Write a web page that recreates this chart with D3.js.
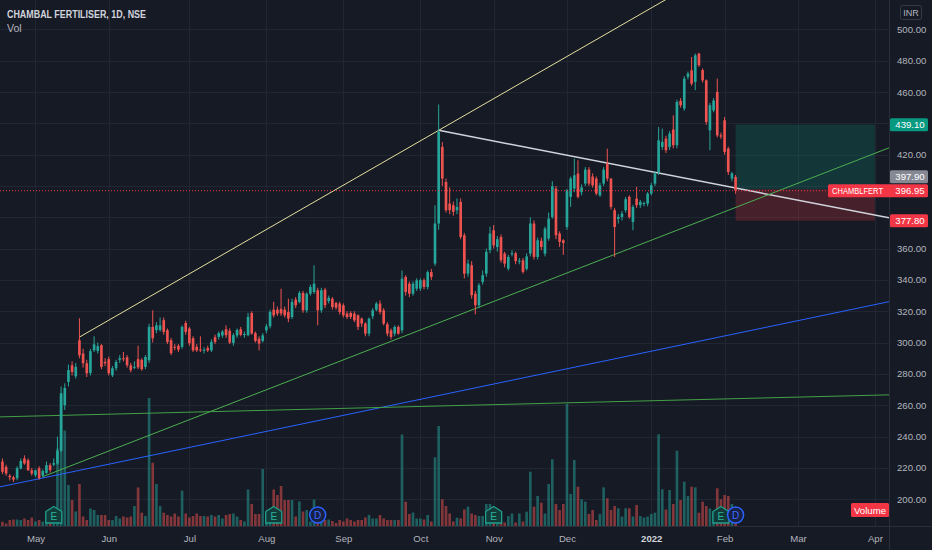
<!DOCTYPE html>
<html><head><meta charset="utf-8">
<script src="https://cdn.jsdelivr.net/npm/d3@7"></script>
<style>
html,body{margin:0;padding:0;background:#161a25;}
svg{display:block;font-family:"Liberation Sans",Arial,sans-serif;}
</style></head><body>
<svg id="chart" width="932" height="550"></svg>
<script>
// ---------------- DATA ----------------
const symbolTitle = "CHAMBAL FERTILISER, 1D, NSE";
const startDate = "2021-04-19";
const holidays = ["2021-04-21","2021-05-13","2021-07-21","2021-08-19","2021-09-10","2021-10-15",
  "2021-11-05","2021-11-19","2022-01-26","2022-03-01","2022-03-18"];

const open = [
 224,220.6,215,214,213.4,219.6,226,224.9,218.5,215.3,
 219.8,215,216.8,221.7,222,222.8,231,260,274.9,285.5,
 278.5,301.5,293,286.8,280.6,295,294.7,298.3,287.6,289.4,
 279.1,283.6,289,290,290.6,285.5,284,289.4,289,284.5,
 288.7,310,307.9,308,314.3,307.9,301.5,297.3,298,297.3,
 312.5,309,302.8,297.3,295.5,295,296.5,295,303.4,303.6,
 304.5,308.5,307.5,299.8,304.5,308.5,305,304.7,318.9,306,
 302.5,301,307.8,310.4,321,321,321.5,321,319.5,316.3,
 327.4,325.9,331.7,320.6,331.2,332.3,333.4,320.6,333.8,326.5,
 328,325.3,324.9,323.8,318.5,318.9,318.5,317.4,315.3,312.1,
 305.7,316.8,321,324.9,320.6,311.7,307.8,305.7,310,307.8,
 341.9,337.6,331.2,334.4,334.5,339.8,335.5,345,350.4,376,
 424.9,402.5,388.7,387.7,384.5,389.8,368.5,344,349.4,331.2,
 323.8,338.7,344,359,371.7,361,367.4,356.8,347.2,356.5,
 357,352,352.5,347,356.8,376,354.7,365,356.8,366.4,
 380.2,398.3,369.6,365.3,373.8,393,398.3,407.9,396,401.5,
 410.4,406,404.7,394,401.5,414.2,404.7,384.5,379,380.2,
 384.5,393,377,391.9,387.7,388.5,388.7,395.1,401.5,408.9,
 424.9,430.2,424.9,436,426,454.3,449.4,469.6,473.8,466.4,
 484.5,474,467.4,435.5,448.3,460,432.3,441.9,423.8,404.7,405.7];

const high = [
 226,222,216,215,221,226,228,226,220,219,
 221,219,224,223,226,240,272,274,286,288,
 287,315.5,296,289,296,304,300,299,290,291,
 285,289,292,294,292,287,288,298,290,292,
 312,320.6,313,316,316,309,303,299,299,311,
 314,310,304,299,304,297,298,302,305,307,
 308,311,309,306,309,310,307,319,320,307,
 304,306,312,321,326,323,334.4,323,328,328,
 329,333,333,332,337,349.3,335,335,335,330,
 329,326,326,325,320,320,320,318,316,313,
 316,322,326,327,322,313,309,311,311,346,
 343,339,339,341,341,341,346,347,387.7,452,
 428,404.7,399,390,392,392,370,353,352,333,
 338,346,360,374,375,368,369,358,356,359,
 358,354,354,357,380,378,367,367,374,383,
 403,400,371,366,398,406,417.4,416.4,401,412,
 412,408,406,402,412,423.8,405,386,382,384,
 393,394,388,399.4,391,390,396,402,409,437.6,
 436.6,432,435,445.1,455,456,470,473,482.3,484.5,
 485,475,468,453,456,468.5,434,444,425,409,407];

const low = [
 216,215,212,211,212,219,222,218,215,214,
 212.5,214,216,217,221,222,230,257,272,279,
 277,290,284,278,279,294,293,283,285,279,
 278,282,287,288,284,281,283,283,282,283,
 287,300,306,307,305,299,292,295,294,296,
 305,298,294,294,294,293,294,294,299,302,
 303,303,299,298,303,304,303,304,305,300,
 295,300,306,309,316,317,317,316,313,315,
 322,325,319,319,330,331,311,319,322,325,
 321,321,318,316,315,315,313,308,310,304,
 304,315,320,318,311,304,302,304,305,306,
 330,329,330,333,333,334,334,340,349,372,
 400,383,382,381,382,366,341,342,328,318,
 322,337,342,357,360,358,351,348,346,355,
 350,350,344,346,355,353,353,359,355,365,
 379,366,361,356,372,386.6,396,392,394,400,
 400,399,394,393,400,403,385,354.7,376,378,
 383,379,371.7,386,386,387,387,394,400,407,
 423,421,423,424,424,450,448,468,464,461.1,
 476,466,439,422.8,447,431,430,420,407,403,395];

const close = [
 217.5,216.4,214,212.5,219.8,224.4,222.8,218.5,216.4,218.5,
 213.4,218,221.7,218.5,223,231,267.7,271,282.4,281.2,
 284.5,291.9,286.8,280.4,294.5,298.9,297.7,284.5,286.8,280.4,
 283.6,287.6,290,289.5,285.5,282.4,284.5,284.2,283,290.8,
 310,302.8,311,311,306.8,300.4,293.2,297,295.5,310,
 306.8,299.6,295,295,295,295.5,295,300.4,300.4,306,
 307,304.7,300,304.7,308,305,305.5,316.4,305.8,301,
 299.3,304.6,310.4,319.5,317.4,318.5,318.5,317.4,315.3,325.9,
 323.8,331.7,320.6,331.2,335.5,337.6,320.6,333.4,323.8,328.5,
 322.7,322.3,319.5,317.4,316.3,316.3,314.2,310,312.1,305.7,
 315.3,320.6,324.9,319.5,312.1,305.7,303.6,310,305.7,340.8,
 332.3,331.2,337.6,339.7,339.8,335.5,345,341.9,376,434.5,
 404.7,384.5,384.5,383.5,386.6,367.4,344,350.4,330.2,323.8,
 336.6,343,357.9,369.6,362.1,366,352.5,350.4,354.7,357,
 352,352.3,345.1,355,376,354.7,365.3,361,372.7,379.1,
 399.8,368.5,364.3,363.6,397.2,404.7,406.8,393,399,410.4,
 401.5,400.4,395.1,400.4,410.4,404.7,386.6,373.8,380.2,382.3,
 391.5,380.2,386.6,387.7,389.8,389,395.1,400.4,408,429.1,
 428.1,422.8,433.4,426,453.6,451.5,468.5,471.7,465.3,483.4,
 477,467.4,440.8,451.5,454.5,432.3,431.5,421.7,408.9,408,396.95];

// volume, in lakh shares (relative)
const volume = [
 4.8,3,6.5,7,7,6.5,8,6.5,9,5,
 6.5,5,7,5,8,78,131,96,41.5,26.5,
 15,42.5,10,6.5,18,16.5,11.5,11.5,11.5,6.5,
 6.5,10.5,8,10,9,10,20.5,39,13.8,10.5,
 128.5,63.8,42.5,20.5,13.8,11.5,10,13,10,35.8,
 13,9,10.5,13,10.5,10.5,10,11.5,10,11.5,
 8,11.5,12.5,13,10,6.5,5,37,22.5,12.5,
 12.5,57.5,13,11.5,37,31.5,40.5,26.5,26.5,26.5,
 10,25,15,16.5,5,27,10,7,6.5,7,
 5.5,3.5,6.5,5,8,6.5,5,6.5,6.5,9,
 11.5,8,8,11.5,8,6.5,6.5,6.5,6.5,92,
 24.8,12.5,14,8,8,7,11.5,5,69.2,100.5,
 27.2,20.5,13,5,8.8,8,17,19.8,13,11.5,
 10.5,10.5,22.5,22.5,20,3,4,4,10.5,13,
 4,13,5,14.8,54.8,19.8,30.5,23.8,13,42.5,
 67.2,22.5,16.5,22.5,122.5,32.5,66.5,39.8,27.2,24.8,
 12.5,16.5,6.5,12.5,39.2,28.2,16.5,20.5,18.2,10,
 18.2,18.2,10,21.5,10.5,9,10,12.5,13.8,92.2,
 37.2,17,36.5,22.5,75.8,26.5,44.8,30.5,39.8,39.2,
 13.8,24.8,20.5,18,15,38.2,27.2,31.5,30.5,22.5,13];

const priceTicks = [200,220,240,260,280,300,320,340,360,380,400,420,440,460,480,500];
const monthKeys = ["2021-05","2021-06","2021-07","2021-08","2021-09","2021-10","2021-11","2021-12","2022-01","2022-02","2022-03","2022-04"];
const monthLabels = ["May","Jun","Jul","Aug","Sep","Oct","Nov","Dec","2022","Feb","Mar","Apr"];

const earningsDates = ["2021-05-10","2021-08-04","2021-11-01","2022-01-31"];
const dividendDates = ["2021-08-23","2022-02-04"];

// drawings: anchors are [bar index from startDate, price]
const trendLines = [
  {name:"upper", a:[21,303.5], b:[119,435.5], extL:false, extR:true, color:"#e3df9e", w:1},
  {name:"resist", a:[119,435.5], b:[179,408.2], extL:false, extR:true, color:"#d1d4dc", w:1.5},
  {name:"support", a:[11,214.4], b:[129,321.7], extL:false, extR:true, color:"#4caf50", w:1},
  {name:"blue", a:[0,208.2], b:[200,305.7], extL:true, extR:true, color:"#2962ff", w:1},
  {name:"flat", a:[0,252.6], b:[200,264.2], extL:true, extR:true, color:"#43a047", w:1}
];
const position = {startBar:200, bars:38, entry:397.90, target:439.10, stop:377.80};
const tickerShort = "CHAMBLFERT";

// ---------------- LAYOUT ----------------
const W = 932, H = 550, plotW = 889, plotH = 526;
const svg = d3.select("#chart");
svg.append("rect").attr("width",W).attr("height",H).attr("fill","#161a25");

const hol = new Set(holidays);
const dates = [];
{ let d = new Date(startDate + "T00:00:00Z");
  while (dates.length < 250) {
    const s = d.toISOString().slice(0,10), dw = d.getUTCDay();
    if (dw !== 0 && dw !== 6 && !hol.has(s)) dates.push(s);
    d.setUTCDate(d.getUTCDate() + 1);
  } }
const idxOf = s => dates.indexOf(s);

const x = d3.scaleLinear().domain([-0.67, 241.85]).range([0, plotW]);
const y = d3.scaleLinear().domain([182.9, 518.7]).range([plotH, 0]);
const vy = d3.scaleLinear().domain([0, d3.max(volume)]).range([plotH + 0.5, plotH + 0.5 - 131]);
const step = x(1) - x(0);

const bars = close.map((c,i)=>({i, o:open[i], h:high[i], l:low[i], c, v:volume[i], up: c >= open[i]}));
const UP = "#26a69a", DN = "#ef5350";

const defs = svg.append("defs");
defs.append("clipPath").attr("id","plotclip").append("rect").attr("width",plotW).attr("height",plotH);

// grid
const tickIdx = monthKeys.map(m => dates.findIndex(d => d.startsWith(m)));
const grid = svg.append("g").attr("clip-path","url(#plotclip)");
grid.selectAll("line.v").data(tickIdx).join("line")
  .attr("x1",d=>Math.round(x(d))+0.5).attr("x2",d=>Math.round(x(d))+0.5)
  .attr("y1",0).attr("y2",plotH).attr("stroke","#222632").attr("stroke-width",1);
grid.selectAll("line.h").data(priceTicks).join("line")
  .attr("x1",0).attr("x2",plotW)
  .attr("y1",d=>Math.round(y(d))+0.5).attr("y2",d=>Math.round(y(d))+0.5)
  .attr("stroke","#222632").attr("stroke-width",1);

const plot = svg.append("g").attr("clip-path","url(#plotclip)");

// position tool
const px0 = x(position.startBar), px1 = x(position.startBar + position.bars);
plot.append("rect").attr("x",px0).attr("width",px1-px0)
  .attr("y",y(position.target)).attr("height",y(position.entry)-y(position.target))
  .attr("fill","rgba(8,153,129,0.22)");
plot.append("rect").attr("x",px0).attr("width",px1-px0)
  .attr("y",y(position.entry)).attr("height",y(position.stop)-y(position.entry))
  .attr("fill","rgba(242,54,69,0.22)");

// volume
const bw = Math.max(1, step*0.72);
plot.append("g").selectAll("rect").data(bars).join("rect")
  .attr("x",d=>x(d.i)-bw/2).attr("width",bw)
  .attr("y",d=>vy(d.v)).attr("height",d=>vy(0)-vy(d.v))
  .attr("fill",d=>d.up?UP:DN).attr("opacity",0.5);

// trend lines
const line = d3.line().x(d=>x(d[0])).y(d=>y(d[1]));
trendLines.forEach(t=>{
  const [k1,p1]=t.a,[k2,p2]=t.b, sl=(p2-p1)/(k2-k1);
  const kl = t.extL ? x.invert(0) : k1, kr = t.extR ? x.invert(plotW) : k2;
  plot.append("path").datum([[kl,p1+sl*(kl-k1)],[kr,p1+sl*(kr-k1)]])
    .attr("d",line).attr("fill","none").attr("stroke",t.color).attr("stroke-width",t.w);
});

// candles
const cg = plot.append("g");
cg.selectAll("line").data(bars).join("line")
  .attr("x1",d=>x(d.i)).attr("x2",d=>x(d.i))
  .attr("y1",d=>y(d.h)).attr("y2",d=>y(d.l))
  .attr("stroke",d=>d.up?UP:DN).attr("stroke-width",1);
cg.selectAll("rect").data(bars).join("rect")
  .attr("x",d=>x(d.i)-bw/2).attr("width",bw)
  .attr("y",d=>y(Math.max(d.o,d.c)))
  .attr("height",d=>Math.max(1,Math.abs(y(d.o)-y(d.c))))
  .attr("fill",d=>d.up?UP:DN);

// current price dotted line
const last = close[close.length-1];
plot.append("line").attr("x1",0).attr("x2",plotW)
  .attr("y1",y(last)).attr("y2",y(last))
  .attr("stroke","#f23645").attr("stroke-width",1).attr("stroke-dasharray","1,2");

// earnings / dividend markers
const mk = svg.append("g");
const my = plotH - 11;
earningsDates.forEach(s=>{
  const cx = x(idxOf(s));
  mk.append("path")
    .attr("d",`M${cx},${my-8.5} L${cx+8},${my-3.5} L${cx+8},${my+8} L${cx-8},${my+8} L${cx-8},${my-3.5} Z`)
    .attr("fill","#123a38").attr("stroke","#1f9e8a").attr("stroke-width",1.3);
  mk.append("text").attr("x",cx).attr("y",my+4.5).attr("text-anchor","middle")
    .attr("font-size",10).attr("fill","#2bb39c").text("E");
});
dividendDates.forEach(s=>{
  const cx = x(idxOf(s));
  mk.append("circle").attr("cx",cx).attr("cy",my).attr("r",8)
    .attr("fill","#182044").attr("stroke","#2962ff").attr("stroke-width",1.5);
  mk.append("text").attr("x",cx).attr("y",my+3.6).attr("text-anchor","middle")
    .attr("font-size",10).attr("fill","#3d6dff").text("D");
});

// separators
svg.append("line").attr("x1",plotW+0.5).attr("x2",plotW+0.5).attr("y1",0).attr("y2",H)
  .attr("stroke","#2a2e39");
svg.append("line").attr("x1",0).attr("x2",W).attr("y1",plotH+0.5).attr("y2",plotH+0.5)
  .attr("stroke","#2a2e39");

// badges (computed first to hide colliding ticks)
const bh = 13;
const redC = y(last);
const badges = [
  {yc:y(position.target), text:position.target.toFixed(2), fill:"#089981"},
  {yc:redC - bh - 1, text:position.entry.toFixed(2), fill:"#868993"},
  {yc:redC, text:last.toFixed(2), fill:"#f23645", ticker:true},
  {yc:y(position.stop), text:position.stop.toFixed(2), fill:"#f23645"}
];

// right axis
const yAxis = d3.axisRight(y).tickValues(priceTicks.filter(p=>badges.every(b=>Math.abs(y(p)-b.yc)>11)))
  .tickFormat(d3.format(".2f")).tickSize(0).tickPadding(8);
const ya = svg.append("g").attr("transform",`translate(${plotW},0)`).call(yAxis);
ya.select(".domain").remove();
ya.selectAll("text").attr("fill","#b2b5be").attr("font-size",9.6).attr("font-family","Liberation Sans, Arial, sans-serif");

// bottom axis
const xAxis = d3.axisBottom(x).tickValues(tickIdx).tickFormat((d,i)=>monthLabels[i]).tickSize(0).tickPadding(9);
const xa = svg.append("g").attr("transform",`translate(0,${plotH})`).call(xAxis);
xa.select(".domain").remove();
xa.selectAll("text").attr("fill",(d,i)=>monthLabels[i]==="2022"?"#d1d4dc":"#b2b5be")
  .attr("font-weight",(d,i)=>monthLabels[i]==="2022"?"bold":"normal")
  .attr("font-size",9.6).attr("font-family","Liberation Sans, Arial, sans-serif");

// draw badges
const bg = svg.append("g");
badges.forEach(b=>{
  if (b.ticker) {
    bg.append("rect").attr("x",828).attr("y",b.yc-bh/2).attr("width",100).attr("height",bh)
      .attr("rx",1.5).attr("fill",b.fill);
    bg.append("text").attr("x",832).attr("y",b.yc+3.5).attr("font-size",9.6)
      .attr("textLength",51).attr("lengthAdjust","spacingAndGlyphs")
      .attr("fill","#ffffff").text(tickerShort);
  } else {
    bg.append("rect").attr("x",890).attr("y",b.yc-bh/2).attr("width",38).attr("height",bh)
      .attr("rx",1.5).attr("fill",b.fill);
  }
  bg.append("text").attr("x",910).attr("y",b.yc+3.5).attr("text-anchor","middle")
    .attr("font-size",9.6).attr("fill","#ffffff").text(b.text);
});

// INR box
svg.append("rect").attr("x",900.5).attr("y",5.5).attr("width",21).attr("height",14).attr("rx",2)
  .attr("fill","#161a25").attr("stroke","#363a45");
svg.append("text").attr("x",911).attr("y",16).attr("text-anchor","middle")
  .attr("font-size",9).attr("fill","#b2b5be").text("INR");

// Volume badge
svg.append("rect").attr("x",851).attr("y",503).attr("width",38).attr("height",14).attr("rx",1.5).attr("fill","#f23645");
svg.append("text").attr("x",870).attr("y",513.5).attr("text-anchor","middle")
  .attr("font-size",9.6).attr("fill","#ffffff").text("Volume");

// title
svg.append("text").attr("x",7).attr("y",18.3).attr("font-size",10.6).attr("font-weight","bold")
  .attr("fill","#d1d4dc").attr("textLength",139).attr("lengthAdjust","spacingAndGlyphs").text(symbolTitle);
svg.append("text").attr("x",7).attr("y",31.5).attr("font-size",10.6)
  .attr("fill","#b2b5be").text("Vol");
</script>
</body></html>
